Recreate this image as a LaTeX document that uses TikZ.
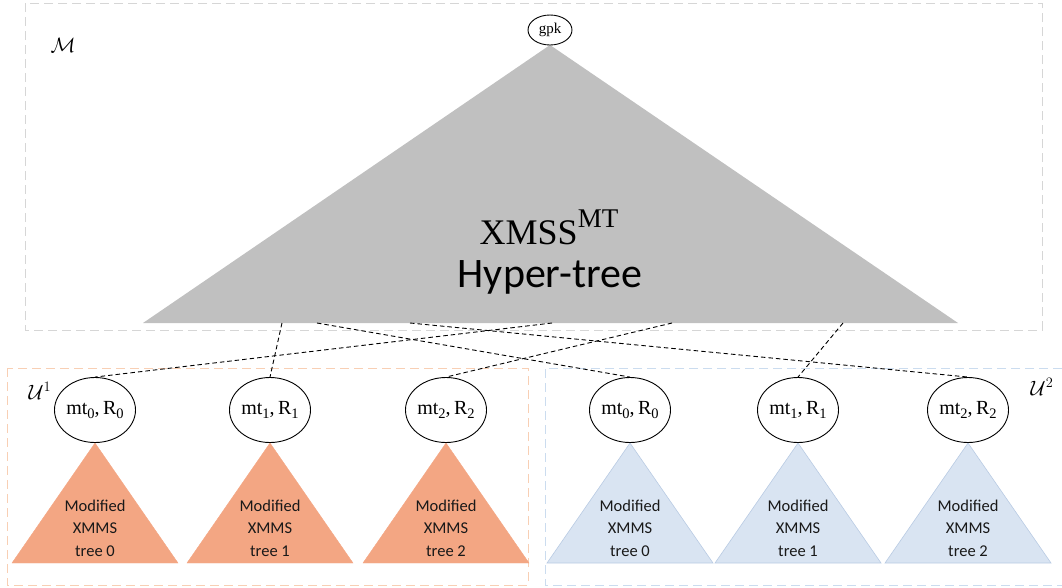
\documentclass[tikz,border=0pt]{standalone}
\usepackage{fontspec}
\setsansfont{Carlito}
\newfontfamily\labelserif{Liberation Serif}
\usetikzlibrary{shapes.geometric}

\definecolor{boxgray}{HTML}{D6D6D6}
\definecolor{boxorange}{HTML}{F8CFB4}
\definecolor{boxblue}{HTML}{CBDCEF}
\definecolor{hyper}{HTML}{C0C0C0}
\definecolor{treeorange}{HTML}{F3A683}
\definecolor{treeblue}{HTML}{D9E4F2}
\definecolor{treeblueline}{HTML}{B9CBE3}

% subscript index and root label mt_i, R_i
\newcommand{\idx}[1]{\raisebox{-4.5pt}{\fontsize{14.5}{15}\selectfont #1}}
\newcommand{\rootlabel}[1]{mt\idx{#1},\,R\idx{#1}}

\begin{document}
\begin{tikzpicture}[x=1pt,y=-1pt,
  region/.style={dash pattern=on 9pt off 5pt, line width=0.9pt},
  root/.style={ellipse, draw, line width=0.9pt, minimum width=68pt,
    minimum height=65pt, inner sep=0pt, fill=white,
    font=\labelserif\fontsize{20}{22}\selectfont},
  link/.style={draw, black, dash pattern=on 4.5pt off 3pt, line width=0.9pt},
  treelabel/.style={font=\sffamily\fontsize{16.5}{22.5}\selectfont,
    align=center, text=black!90, inner sep=0pt},
  setlabel/.style={font=\fontsize{22}{24}\selectfont, inner sep=0pt}]

\useasboundingbox (0,0) rectangle (1062,587);

% dashed regions
\draw[region, boxgray] (25,3) rectangle (1042,330);
\draw[region, boxorange] (7,368) rectangle (528,585);
\draw[region, boxblue] (1062,368) -- (545,368) -- (545,585) -- (1062,585);

\node[setlabel] (mlabel) at (63,45) {$\mathcal{M}$};
\node[setlabel] (u1label) at (40,391) {$\mathcal{U}^1$};
\node[setlabel] (u2label) at (1042,387) {$\mathcal{U}^2$};

% hyper-tree
\fill[hyper] (550,45) -- (958,323) -- (143,323) -- cycle;
\node[ellipse, draw, line width=0.9pt, minimum width=44pt, minimum height=30pt,
  inner sep=0pt, fill=white, font=\labelserif\fontsize{15}{16}\selectfont] (gpk) at (550,30) {gpk};
\node[font=\labelserif\fontsize{36}{40}\selectfont, inner sep=0pt, anchor=base] (xmss) at (549,244)
  {XMSS\raisebox{17pt}{\fontsize{27}{28}\selectfont MT}};
\node[font=\sffamily\fontsize{42}{46}\selectfont, inner sep=0pt, anchor=base] (hyper) at (550,287) {Hyper-tree};

% attachment points on the base of the hyper-tree
\coordinate (h1) at (282,323);
\coordinate (h2) at (317,323);
\coordinate (h3) at (410,323);
\coordinate (h4) at (552,323);
\coordinate (h5) at (672,323);
\coordinate (h6) at (843,323);

% sub-trees of the first set
\foreach \cx/\i in {95/0, 270/1, 446/2}{
  \filldraw[treeorange] (\cx,443) -- (\cx+83,563) -- (\cx-83,563) -- cycle;
  \node[root] (a\i) at (\cx,410) {\rootlabel{\i}};
  \node[treelabel] (la\i) at (\cx,528) {Modified\\XMMS\\tree \i};
}

% sub-trees of the second set
\foreach \cx/\i in {630/0, 798/1, 968/2}{
  \filldraw[fill=treeblue, draw=treeblueline, line width=0.6pt]
    (\cx,443) -- (\cx+83,563) -- (\cx-83,563) -- cycle;
  \node[root] (b\i) at (\cx,410) {\rootlabel{\i}};
  \node[treelabel] (lb\i) at (\cx,528) {Modified\\XMMS\\tree \i};
}

% links from the hyper-tree to the sub-tree roots
\draw[link] (h1) -- (a1.north);
\draw[link] (h2) -- (b0.north);
\draw[link] (h3) -- (b2.north);
\draw[link] (h4) -- (a0.north);
\draw[link] (h5) -- (a2.north);
\draw[link] (h6) -- (b1.north);
\end{tikzpicture}
\end{document}
